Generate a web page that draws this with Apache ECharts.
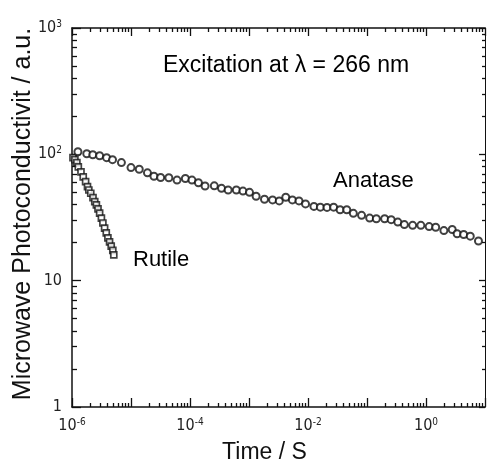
<!DOCTYPE html>
<html>
<head>
<meta charset="utf-8">
<script src="https://cdn.jsdelivr.net/npm/echarts@6/dist/echarts.min.js"></script>
<style>
  html, body { margin: 0; padding: 0; background: #fff; }
  #chart { width: 488px; height: 469px; }
</style>
</head>
<body>
<div id="chart"></div>
<script>
// time (s) and signal (a.u.)
var anataseTime = [1.26e-6, 1.78e-6, 2.25e-6, 2.94e-6, 3.86e-6, 4.86e-6, 6.88e-6, 1.0e-5, 1.38e-5, 1.90e-5,
  2.45e-5, 3.18e-5, 4.38e-5, 6.03e-5, 8.34e-5, 1.08e-4, 1.39e-4, 1.80e-4, 2.58e-4, 3.42e-4,
  4.43e-4, 6.10e-4, 7.90e-4, 1.02e-3, 1.32e-3, 1.83e-3, 2.51e-3, 3.26e-3, 4.20e-3, 5.44e-3,
  7.04e-3, 9.08e-3, 1.26e-2, 1.62e-2, 2.10e-2, 2.72e-2, 3.50e-2, 4.54e-2, 5.87e-2, 8.09e-2,
  0.111, 0.144, 0.199, 0.257, 0.333, 0.430, 0.594, 0.818, 1.13, 1.46,
  2.01, 2.78, 3.37, 4.35, 5.63, 7.75];
var anataseSignal = [104.8, 101.1, 99.3, 97.5, 94.1, 90.7, 86.0, 78.5, 76.2, 71.4,
  67.1, 65.6, 65.2, 62.5, 64.4, 62.5, 59.6, 56.1, 56.3, 53.8,
  52.2, 52.2, 51.2, 50.0, 46.6, 44.1, 43.6, 42.8, 45.7, 43.6,
  42.8, 40.5, 38.7, 38.2, 38.0, 38.2, 36.4, 36.4, 34.1, 32.9,
  31.3, 30.9, 30.9, 30.4, 29.1, 27.8, 27.4, 27.4, 26.8, 26.5,
  24.9, 25.4, 23.5, 23.2, 22.5, 20.6];

var rutileTime = [1.04e-6, 1.12e-6, 1.21e-6, 1.28e-6, 1.42e-6, 1.55e-6, 1.70e-6, 1.83e-6, 1.93e-6, 2.08e-6,
  2.27e-6, 2.43e-6, 2.59e-6, 2.76e-6, 2.94e-6, 3.15e-6, 3.34e-6, 3.57e-6, 3.81e-6, 4.06e-6,
  4.33e-6, 4.62e-6, 4.92e-6, 5.11e-6];
var rutileSignal = [94.1, 90.7, 86.0, 79.5, 72.7, 66.4, 60.7, 55.5, 52.2, 49.2,
  45.5, 42.3, 39.8, 37.0, 34.3, 31.3, 28.6, 26.1, 23.9, 21.8,
  20.3, 18.8, 17.4, 16.0];

var xExtent = [1e-6, 10];
var yExtent = [1, 1000];

var chart = echarts.init(document.getElementById('chart'));

function pairs(xs, ys) {
  return xs.map(function (x, i) { return [x, ys[i]]; });
}

function powLabel(v, everyOther) {
  var e = Math.round(Math.log10(v));
  if (everyOther && e % 2 !== 0) return '';
  if (e === 0 && !everyOther) return '{b|1}';
  if (e === 1 && !everyOther) return '{b|10}';
  return '{b|10}{s|' + e + '}';
}

var tickFont = '"Liberation Sans Narrow", "DejaVu Sans Condensed", "Liberation Sans"';
var richText = {
  b: { fontSize: 16, lineHeight: 18, color: '#222', fontFamily: tickFont },
  s: { fontSize: 10, lineHeight: 10, verticalAlign: 'top', color: '#222', fontFamily: tickFont }
};

var tickStyle = { color: '#111', width: 1.3 };

var option = {
  animation: false,
  grid: { left: 72, right: 1, top: 28, bottom: 58 },
  xAxis: [{
    type: 'log',
    min: xExtent[0],
    max: xExtent[1],
    interval: 1,
    name: 'Time / S',
    nameLocation: 'middle',
    nameGap: 34,
    nameTextStyle: { fontSize: 23, color: '#111', fontFamily: 'Liberation Sans', padding: [0, 28, 0, 0] },
    axisLine: { lineStyle: { color: '#111', width: 1.5 } },
    axisTick: { inside: true, length: 9, lineStyle: tickStyle },
    minorTick: { show: true, splitNumber: 9, length: 4, lineStyle: tickStyle },
    axisLabel: {
      margin: 10,
      formatter: function (v) { return powLabel(v, true); },
      rich: richText
    },
    splitLine: { show: false }
  }, {
    type: 'log',
    position: 'top',
    min: xExtent[0],
    max: xExtent[1],
    interval: 1,
    axisLine: { lineStyle: { color: '#111', width: 1.5 } },
    axisTick: { inside: true, length: 8, lineStyle: tickStyle },
    minorTick: { show: true, splitNumber: 9, length: 4, lineStyle: tickStyle },
    axisLabel: { show: false },
    splitLine: { show: false }
  }],
  yAxis: [{
    type: 'log',
    min: yExtent[0],
    max: yExtent[1],
    interval: 1,
    axisLine: { lineStyle: { color: '#111', width: 1.5 } },
    axisTick: { inside: true, length: 9, lineStyle: tickStyle },
    minorTick: { show: true, splitNumber: 9, length: 5, lineStyle: tickStyle },
    axisLabel: {
      margin: 10,
      formatter: function (v) { return powLabel(v, false); },
      rich: richText
    },
    splitLine: { show: false }
  }, {
    type: 'log',
    position: 'right',
    min: yExtent[0],
    max: yExtent[1],
    interval: 1,
    axisLine: { lineStyle: { color: '#111', width: 1 } },
    axisTick: { inside: true, length: 6, lineStyle: tickStyle },
    minorTick: { show: true, splitNumber: 9, length: 3, lineStyle: tickStyle },
    axisLabel: { show: false },
    splitLine: { show: false }
  }],
  series: [{
    name: 'Rutile',
    type: 'scatter',
    symbol: 'rect',
    symbolSize: 6,
    data: pairs(rutileTime, rutileSignal),
    itemStyle: { color: '#fff', borderColor: '#111', borderWidth: 1.7 }
  }, {
    name: 'Anatase',
    type: 'scatter',
    symbol: 'circle',
    symbolSize: 7,
    data: pairs(anataseTime, anataseSignal),
    itemStyle: { color: '#fff', borderColor: '#111', borderWidth: 2 }
  }],
  graphic: [{
    type: 'text',
    x: 23,
    y: 214,
    rotation: Math.PI / 2,
    style: {
      text: 'Microwave Photoconductivit / a.u.',
      fontSize: 25, fill: '#111', fontFamily: 'Liberation Sans',
      align: 'center', verticalAlign: 'middle'
    }
  }, {
    type: 'text',
    left: 163,
    top: 54,
    style: { text: 'Excitation at λ = 266 nm', fontSize: 23, fill: '#000', fontFamily: 'Liberation Sans' }
  }, {
    type: 'text',
    left: 333,
    top: 170,
    style: { text: 'Anatase', fontSize: 22, fill: '#000', fontFamily: 'Liberation Sans' }
  }, {
    type: 'text',
    left: 133,
    top: 249,
    style: { text: 'Rutile', fontSize: 22, fill: '#000', fontFamily: 'Liberation Sans' }
  }]
};

chart.setOption(option);
</script>
</body>
</html>
